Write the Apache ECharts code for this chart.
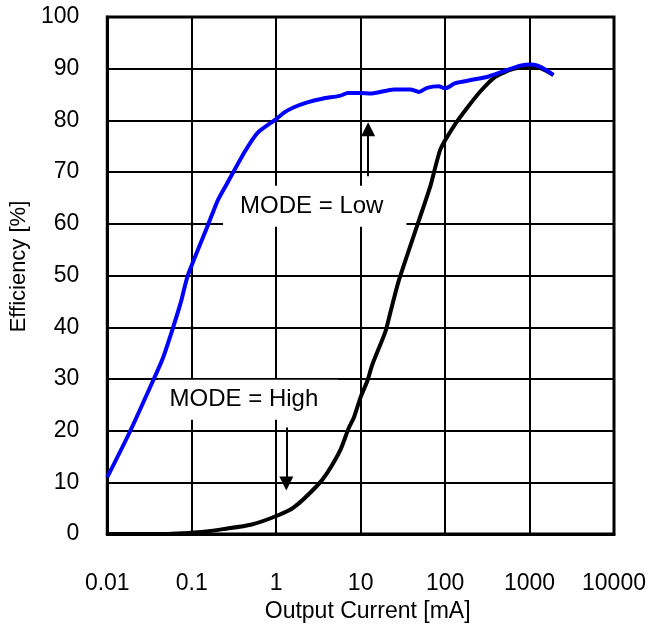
<!DOCTYPE html>
<html>
<head>
<meta charset="utf-8">
<script src="https://cdn.jsdelivr.net/npm/echarts@6/dist/echarts.min.js"></script>
<style>
  html, body { margin: 0; padding: 0; background: #fff; }
  #chart { width: 650px; height: 628px; }
</style>
</head>
<body>
<div id="chart"></div>
<script>
// MODE = Low (blue)
const lowCurrent = [0.01, 0.0183, 0.0347, 0.0455, 0.0597, 0.0748, 0.0897, 0.155, 0.203, 0.266, 0.419, 0.602, 0.99, 1.24, 1.6, 2.34, 3.5, 5.8, 7.0, 10, 13.1, 24.7, 38.9, 48.8, 61.2, 84, 100, 132, 218, 327, 492, 776, 1065, 1400, 1918];
const lowEff = [11, 19.6, 29.6, 34, 39.8, 45, 50, 59.7, 64.5, 68, 73.8, 77.6, 80.2, 81.5, 82.5, 83.5, 84.2, 84.8, 85.3, 85.3, 85.2, 86, 86, 85.5, 86.3, 86.6, 86.2, 87.2, 87.9, 88.5, 89.5, 90.6, 90.8, 90.2, 88.8];
// MODE = High (black)
const highCurrent = [0.01, 0.04, 0.129, 0.243, 0.5, 1.04, 1.63, 3.07, 4.04, 5.8, 7.27, 8.3, 10, 12, 13.7, 19.7, 22.6, 28.4, 46.8, 67.2, 88, 127, 182, 261, 376, 591, 931, 1337, 1918];
const highEff = [0, 0, 0.4, 1, 1.8, 3.6, 5.2, 9.4, 11.9, 16.4, 20.6, 22.5, 26.5, 29.6, 32.7, 39.2, 43, 49.1, 59.7, 67.4, 74.4, 78.9, 82.4, 85.6, 88.2, 89.8, 90.4, 90.1, 88.8];

// annotation boxes (data coords) and arrows
const noteText = ['MODE = Low', 'MODE = High'];
const notePos = [[2.86, 63.4], [0.463, 26.0]];
const arrowLow = [[12.26, 69.2], [12.26, 78.3]];
const arrowHigh = [[1.318, 20.6], [1.318, 9.8]];

const font = 'Liberation Sans, Arial, sans-serif';

function zip(xs, ys) {
  return xs.map((x, i) => [x, ys[i]]);
}

const chart = echarts.init(document.getElementById('chart'));

const option = {
  animation: false,
  backgroundColor: '#fff',
  grid: {
    left: 106,
    right: 36,
    top: 17,
    bottom: 91,
    show: true,
    borderColor: '#000',
    borderWidth: 3,
  },
  xAxis: {
    type: 'log',
    logBase: 10,
    min: 0.01,
    max: 10000,
    name: 'Output Current [mA]',
    nameLocation: 'middle',
    nameGap: 58,
    nameTextStyle: { fontFamily: font, fontSize: 23, color: '#000', padding: [0, 0, 0, 14] },
    axisLine: { show: true, lineStyle: { color: '#000', width: 3 } },
    axisTick: { show: false },
    axisLabel: {
      margin: 38,
      fontFamily: font,
      fontSize: 23,
      color: '#000',
      formatter: (v) => String(Number(v.toPrecision(3))),
    },
    splitLine: { show: true, lineStyle: { color: '#000', width: 2 } },
    minorTick: { show: false },
    minorSplitLine: { show: false },
  },
  yAxis: {
    type: 'value',
    min: 0,
    max: 100,
    interval: 10,
    name: 'Efficiency [%]',
    nameLocation: 'middle',
    nameGap: 74,
    nameTextStyle: { fontFamily: font, fontSize: 22, color: '#000', padding: [0, 0, 0, 18] },
    axisLine: { show: true, lineStyle: { color: '#000', width: 3 } },
    axisTick: { show: false },
    axisLabel: { margin: 28, fontFamily: font, fontSize: 23, color: '#000' },
    splitLine: { show: true, lineStyle: { color: '#000', width: 2 } },
  },
  series: [
    {
      // annotations layer: white boxes over the grid, under the curves
      type: 'line',
      data: [],
      z: 1,
      silent: true,
      markPoint: {
        z: 1,
        silent: true,
        symbol: 'rect',
        symbolSize: 1,
        itemStyle: { color: 'rgba(0,0,0,0)' },
        label: {
          show: true,
          position: 'inside',
          fontFamily: font,
          fontSize: 24,
          lineHeight: 24,
          color: '#000',
          backgroundColor: '#fff',
        },
        data: [
          { coord: notePos[0], value: noteText[0], label: { formatter: noteText[0], padding: [5, 23, 12, 17] } },
          { coord: notePos[1], value: noteText[1], label: { formatter: noteText[1], padding: [4, 20, 12, 12] } },
        ],
      },
      markLine: {
        z: 1,
        silent: true,
        symbol: ['none', 'triangle'],
        symbolSize: [14, 14],
        label: { show: false },
        lineStyle: { color: '#000', width: 2, type: 'solid' },
        itemStyle: { color: '#000' },
        emphasis: { disabled: true },
        data: [
          [{ coord: arrowLow[0] }, { coord: arrowLow[1] }],
          [{ coord: arrowHigh[0] }, { coord: arrowHigh[1] }],
        ],
      },
    },
    {
      name: 'MODE = High',
      type: 'line',
      z: 3,
      showSymbol: false,
      smooth: 0.2,
      data: zip(highCurrent, highEff),
      lineStyle: { color: '#000', width: 4 },
      itemStyle: { color: '#000' },
    },
    {
      name: 'MODE = Low',
      type: 'line',
      z: 4,
      showSymbol: false,
      smooth: 0.2,
      data: zip(lowCurrent, lowEff),
      lineStyle: { color: '#0000FF', width: 4 },
      itemStyle: { color: '#0000FF' },
    },
  ],
};

chart.setOption(option);
</script>
</body>
</html>
